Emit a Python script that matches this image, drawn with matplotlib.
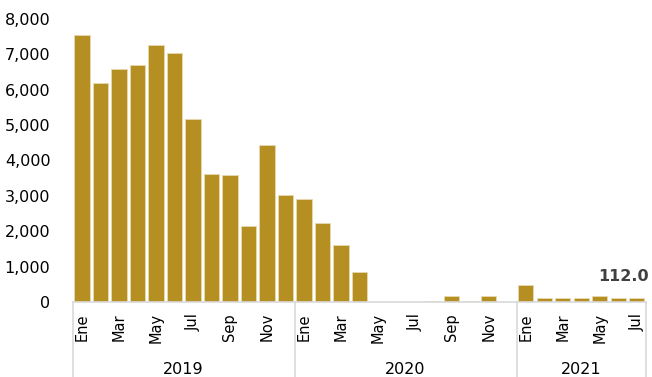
import matplotlib.pyplot as plt
from matplotlib.ticker import FuncFormatter

# monthly values, Ene 2019 - Jul 2021
years = ['2019', '2020', '2021']
months_per_year = [12, 12, 7]
month_names = ['Ene', 'Feb', 'Mar', 'Abr', 'May', 'Jun',
               'Jul', 'Ago', 'Sep', 'Oct', 'Nov', 'Dic']
values_2019 = [7560, 6200, 6580, 6700, 7260, 7050, 5170, 3630, 3590, 2140, 4450, 3030]
values_2020 = [2900, 2220, 1620, 860, 0, 0, 0, 40, 180, 40, 180, 0]
values_2021 = [480, 120, 120, 120, 170, 120, 112]
last_label = '112.0'

values = values_2019 + values_2020 + values_2021
labels = []
for n in months_per_year:
    labels += month_names[:n]
x = list(range(len(values)))

bar_color = '#B58F21'
gray_line = '#D9D9D9'

fig = plt.figure(figsize=(6.52, 3.77), dpi=100)
ax = fig.add_axes([72.7/652, 1-302/377, (646-72.7)/652, (302-19)/377])

ax.bar(x, values, width=0.83, color=bar_color, edgecolor='#E8D9B0', linewidth=0.6)
ax.set_xlim(-0.5, len(values)-0.5)
ax.set_ylim(0, 8000)
ax.set_yticks(range(0, 8001, 1000))
ax.yaxis.set_major_formatter(FuncFormatter(lambda v, p: f'{int(v):,}'))
ax.tick_params(axis='y', length=0, labelsize=11.5, pad=16)

# show every second month, rotated
tick_pos = []
tick_lab = []
start = 0
for n in months_per_year:
    for i in range(0, n, 2):
        tick_pos.append(start+i)
        tick_lab.append(labels[start+i])
    start += n
ax.set_xticks(tick_pos)
ax.set_xticklabels(tick_lab, rotation=90, fontsize=10.5)
ax.tick_params(axis='x', length=0, pad=8)

for s in ['left', 'right', 'top']:
    ax.spines[s].set_visible(False)
ax.spines['bottom'].set_color(gray_line)
ax.spines['bottom'].set_linewidth(1.2)

# year groups with dividers
bounds = [-0.5]
for n in months_per_year:
    bounds.append(bounds[-1]+n)
for b in bounds:
    ax.plot([b, b], [0, -0.3], transform=ax.get_xaxis_transform(),
            color=gray_line, lw=1.2, clip_on=False)
for i, yr in enumerate(years):
    ax.text((bounds[i]+bounds[i+1])/2, -0.24, yr, transform=ax.get_xaxis_transform(),
            ha='center', va='center', fontsize=11.5)

ax.annotate(last_label, (x[-1], values[-1]), xytext=(-13, 22), textcoords='offset pixels',
            ha='center', va='center', fontsize=11.5, fontweight='bold', color='#404040')

fig.savefig('out.png', dpi=100)
